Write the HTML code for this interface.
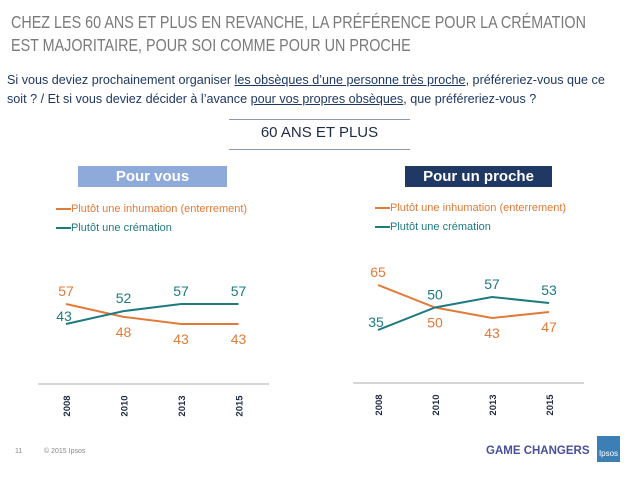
<!DOCTYPE html>
<html><head><meta charset="utf-8"><style>
body{margin:0;width:638px;height:478px;background:#fff;font-family:"Liberation Sans",sans-serif;overflow:hidden;position:relative}
.a{position:absolute;white-space:nowrap}
</style></head><body>
<div class="a" style="left:11px;top:11px;font-size:17.5px;line-height:23px;color:#7a7a7a;transform:scaleX(0.82);transform-origin:0 0">CHEZ LES 60 ANS ET PLUS EN REVANCHE, LA PRÉFÉRENCE POUR LA CRÉMATION<br>EST MAJORITAIRE, POUR SOI COMME POUR UN PROCHE</div>
<div class="a" style="left:7px;top:71px;font-size:12.6px;line-height:19px;color:#1f3864">Si vous deviez prochainement organiser <u>les obsèques d’une personne très proche</u>, préféreriez-vous que ce<br>soit ? / Et si vous deviez décider à l’avance <u>pour vos propres obsèques</u>, que préféreriez-vous ?</div>
<div class="a" style="left:229px;top:119px;width:181px;border-top:1px solid #8a9ab0"></div>
<div class="a" style="left:229px;top:124px;width:181px;text-align:center;font-size:15px;color:#1f2b44">60 ANS ET PLUS</div>
<div class="a" style="left:229px;top:149px;width:181px;border-top:1px solid #8a9ab0"></div>
<div class="a" style="left:78px;top:166px;width:149px;height:21px;background:#8eaadb;color:#fff;font-weight:bold;font-size:15px;line-height:21px;text-align:center">Pour vous</div>
<div class="a" style="left:405px;top:166px;width:147px;height:21px;background:#1f3864;color:#fff;font-weight:bold;font-size:15px;line-height:21px;text-align:center">Pour un proche</div>
<div class="a" style="left:56px;top:200px;font-size:11px;line-height:19px">
<div style="color:#e07b39"><span style="display:inline-block;width:15px;border-top:2px solid #e07b39;vertical-align:middle"></span>Plutôt une inhumation (enterrement)</div>
<div style="color:#1f7a80"><span style="display:inline-block;width:15px;border-top:2px solid #1f7a80;vertical-align:middle"></span>Plutôt une crémation</div></div>
<div class="a" style="left:375px;top:199px;font-size:11px;line-height:19px">
<div style="color:#e07b39"><span style="display:inline-block;width:15px;border-top:2px solid #e07b39;vertical-align:middle"></span>Plutôt une inhumation (enterrement)</div>
<div style="color:#1f7a80"><span style="display:inline-block;width:15px;border-top:2px solid #1f7a80;vertical-align:middle"></span>Plutôt une crémation</div></div>
<svg class="a" style="left:0;top:0" width="638" height="478" id="chart"></svg>
<div class="a" style="left:15px;top:448px;font-size:7px;color:#888">11</div>
<div class="a" style="left:44px;top:448px;font-size:7px;color:#888">© 2015 Ipsos</div>
<div class="a" style="left:486px;top:445px;font-size:11.5px;font-weight:bold;color:#4a4f9a">GAME CHANGERS</div>
<div class="a" style="left:597px;top:436px;width:23px;height:26px;background:#3b7fb5;color:#fff;font-size:8px;text-align:center;line-height:36px">Ipsos</div>
<script>
const years=["2008","2010","2013","2015"];
const vousInhum=[57,48,43,43];
const vousCrem=[43,52,57,57];
const procheInhum=[65,50,43,47];
const procheCrem=[35,50,57,53];
const NS="http://www.w3.org/2000/svg";
const svg=document.getElementById('chart');
const OR="#e07b39",TE="#1f7a80";
function mk(t,a){const e=document.createElementNS(NS,t);for(const k in a)e.setAttribute(k,a[k]);svg.appendChild(e);return e;}
function draw(cfg,inh,cre,name){
 const x=i=>cfg.x0+i*cfg.dx;
 const y=v=>cfg.yb-(v-cfg.vb)*cfg.k;
 const ax=mk('line',{x1:cfg.ax0,x2:cfg.ax1,y1:cfg.ay,y2:cfg.ay,stroke:'#c8c8c8','stroke-width':1.5});
 
 
 years.forEach((yr,i)=>{const t=mk('text',{x:0,y:0,transform:`translate(${x(i)+4},${cfg.ay+22}) rotate(-90)`,'text-anchor':'middle','font-size':9.5,'font-weight':'bold',fill:'#1f2b44'});t.textContent=yr;
 
 });
 [[inh,OR,'inhumation'],[cre,TE,'cremation']].forEach(([d,c,s])=>{
  const p=mk('polyline',{points:d.map((v,i)=>x(i)+','+y(v)).join(' '),fill:'none',stroke:c,'stroke-width':2});
  
  
 });
 for(let i=0;i<years.length;i++){
  const a=inh[i],b=cre[i];
  const aAbove=a>b;
  const la=mk('text',{x:x(i),y:y(a)+(aAbove?-8:20),'text-anchor':'middle','font-size':14,fill:OR});la.textContent=a;
  
  
  const lb=mk('text',{x:x(i)-(i==0?2:0),y:y(b)+(aAbove?(i==0?-3:20):-8),'text-anchor':'middle','font-size':14,fill:TE});lb.textContent=b;
  
  
 }
}
draw({x0:66,dx:57.5,yb:324,vb:43,k:1.43,ax0:38,ax1:269,ay:384,lx:[0,0,0,0]},vousInhum,vousCrem,'pour-vous');
draw({x0:378,dx:57,yb:330,vb:35,k:1.5,ax0:353,ax1:584,ay:383,lx:[0,0,0,0]},procheInhum,procheCrem,'pour-proche');
</script>
</body></html>
